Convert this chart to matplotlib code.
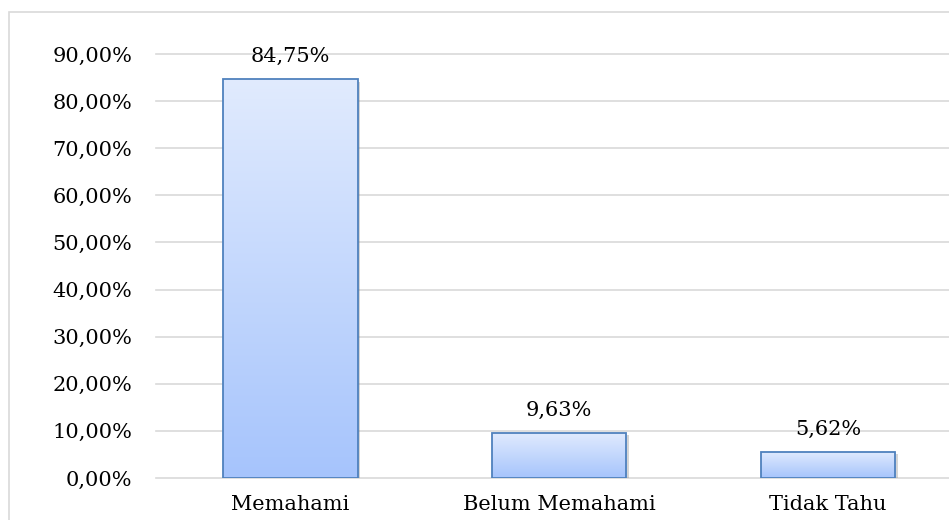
import numpy as np
import matplotlib
matplotlib.use("Agg")
import matplotlib.pyplot as plt
import matplotlib.patheffects as pe
from matplotlib.patches import Rectangle
from matplotlib.colors import LinearSegmentedColormap


# ---------------- DATA ----------------
categories = ["Memahami", "Belum Memahami", "Tidak Tahu"]
values = [84.75, 9.63, 5.62]
yticks = [0, 10, 20, 30, 40, 50, 60, 70, 80, 90]


def pct(v):
    return f"{v:.2f}".replace(".", ",") + "%"


plt.rcParams['font.family'] = ['DejaVu Serif']

fig = plt.figure(figsize=(9.49, 5.20), dpi=100)

# outer chart frame (runs past the image on right and bottom)
fig.patches.append(Rectangle((9 / 949, -0.1), 1.2, (520 - 12) / 520 + 0.1,
                             transform=fig.transFigure, fill=False,
                             edgecolor="#d9d9d9", linewidth=1.2))

ax = fig.add_axes([156 / 949, 42 / 520, 806.5 / 949, 424 / 520])

x = np.arange(len(categories))
width = 0.5

# gridlines
ax.set_yticks(yticks)
ax.set_yticklabels([pct(t) for t in yticks])
ax.yaxis.grid(True, color="#d9d9d9", linewidth=1.2)
ax.set_axisbelow(True)
for gl in ax.get_ygridlines():
    gl.set_clip_on(False)

# shadow + white base
ax.bar(x, values, width, color="white", edgecolor="none", zorder=2,
       path_effects=[pe.SimplePatchShadow(offset=(2, -2), shadow_rgbFace="#888888", alpha=0.35),
                     pe.Normal()])

# gradient fill
cmap = LinearSegmentedColormap.from_list("g", ["#a6c4fc", "#e1ebfe"])
grad = np.linspace(0, 1, 256).reshape(-1, 1)
bars = ax.bar(x, values, width, color="none", edgecolor="#4f81bd", linewidth=1.3, zorder=4)
for b in bars:
    im = ax.imshow(grad, cmap=cmap, origin="lower", aspect="auto",
                   extent=[b.get_x(), b.get_x() + b.get_width(), 0, b.get_height()],
                   zorder=3)
    im.set_clip_path(b)

for xi, v in zip(x, values):
    ax.annotate(pct(v), (xi, v), xytext=(0, 12), textcoords="offset points",
                ha="center", va="baseline", fontsize=15, color="black")

ax.set_xlim(-0.5, 2.5)
ax.set_ylim(0, 90)
ax.set_xticks(x)
ax.set_xticklabels(categories)
ax.tick_params(axis="both", length=0, labelsize=15, colors="black")
ax.tick_params(axis="y", pad=17)
ax.tick_params(axis="x", pad=12)
for s in ax.spines.values():
    s.set_visible(False)

fig.savefig("out.png", dpi=100)
